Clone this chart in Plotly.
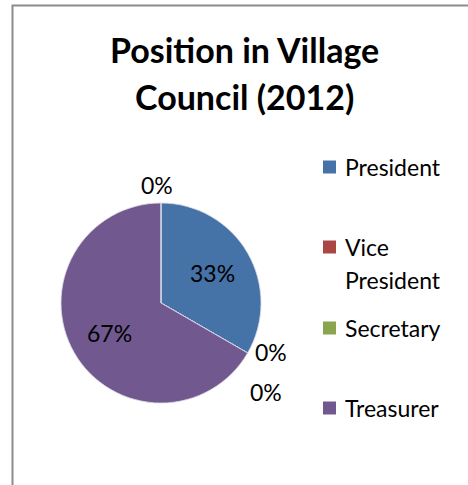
import math
import plotly.graph_objects as go

# Village council positions held (2012)
categories = ["President", "Vice President", "Secretary", "Treasurer", ""]
counts = [1, 0, 0, 2, 0]
colors = ["#4572A7", "#AA4643", "#89A54E", "#71588F", "#4198AF"]
legend_items = categories[:4]

W, H = 468, 485
CX, CY, R = 161, 303, 100          # pie centre / radius in pixels
FONT = "Lato"
TEXT_COLOR = "#000000"


def px(x):
    return x / W


def py(y):
    return 1 - y / H


total = sum(counts)
pct = [v / total for v in counts]

fig = go.Figure()
fig.add_trace(go.Pie(
    labels=categories,
    values=counts,
    sort=False,
    direction="clockwise",
    rotation=0,
    marker=dict(colors=colors, line=dict(color="#d9d9e6", width=0.8)),
    textinfo="none",
    hoverinfo="label+percent",
    showlegend=False,
    domain=dict(x=[px(CX - R), px(CX + R)], y=[py(CY + R), py(CY - R)]),
))

annotations = []
shapes = []

# Percentage labels: inside for non-zero slices, outside (stacked) for zero slices
outside_nudge = [(6, -11), (1, 29), (-4, 2)]
cum = 0.0
k_out = 0
for name, p in zip(categories, pct):
    mid = (cum + p / 2) * 2 * math.pi
    dx, dy = math.sin(mid), -math.cos(mid)
    if p > 0:
        x, y = CX + 0.6 * R * dx, CY + 0.6 * R * dy
    else:
        nx, ny = outside_nudge[k_out]
        k_out += 1
        x, y = CX + 1.2 * R * dx + nx, CY + 1.2 * R * dy + ny
    annotations.append(dict(
        x=px(x), y=py(y), xref="paper", yref="paper",
        text=f"{round(p * 100)}%", showarrow=False,
        xanchor="center", yanchor="middle",
        font=dict(family=FONT, size=23, color=TEXT_COLOR),
    ))
    cum += p

# Legend drawn on the right with Excel-style spacing
legend_y = [167, 247, 328, 408]
SQ = 13
for name, col, ly in zip(legend_items, colors, legend_y):
    shapes.append(dict(
        type="rect", xref="paper", yref="paper",
        x0=px(323), x1=px(323 + SQ), y0=py(ly + SQ / 2), y1=py(ly - SQ / 2),
        fillcolor=col, line=dict(width=0),
    ))
    lines = name.split(" ") if len(name) > 10 else [name]
    for j, line in enumerate(lines):
        annotations.append(dict(
            x=px(343), y=py(ly + 33 * j), xref="paper", yref="paper",
            text=line, showarrow=False, xanchor="left", yanchor="middle",
            font=dict(family=FONT, size=23, color=TEXT_COLOR),
        ))

# Title
for j, line in enumerate(["Position in Village", "Council (2012)"]):
    annotations.append(dict(
        x=px(244), y=py(50 + 47 * j), xref="paper", yref="paper",
        text=f"<b>{line}</b>", showarrow=False,
        xanchor="center", yanchor="middle",
        font=dict(family=FONT, size=34, color=TEXT_COLOR),
    ))

# Chart-area border (runs off the right and bottom of the page)
shapes.append(dict(
    type="rect", xref="paper", yref="paper",
    x0=px(12.5), x1=1.1, y0=-0.1, y1=py(5.5),
    line=dict(color="#8c8c8c", width=2), fillcolor="rgba(0,0,0,0)",
))

fig.update_layout(
    width=W, height=H,
    margin=dict(l=0, r=0, t=0, b=0),
    paper_bgcolor="white", plot_bgcolor="white",
    annotations=annotations, shapes=shapes,
)

fig.write_html("out.html")
